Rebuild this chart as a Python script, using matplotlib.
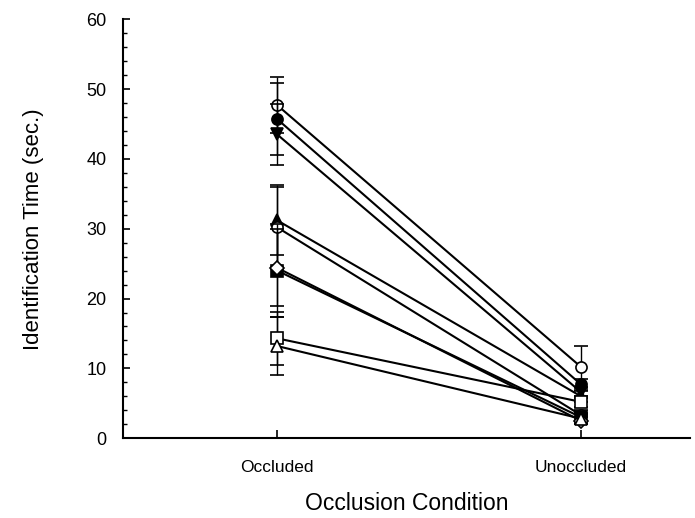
import numpy as np
import matplotlib.pyplot as plt

plt.rcParams['font.family'] = ['Liberation Sans', 'DejaVu Sans']

# Conditions and per-series means / error bars (sec.)
conditions = ['Occluded', 'Unoccluded']
occluded = [47.7, 45.7, 43.5, 31.2, 30.2, 24.0, 24.4, 14.3, 13.2]
unoccluded = [10.2, 7.7, 6.6, 6.0, 3.3, 3.0, 2.5, 5.2, 2.8]
occ_err = [4.0, 5.2, 4.4, 5.0, 5.8, 6.7, 5.5, 3.8, 4.2]
unocc_err = [3.0, 0.8, 0.8, 0.8, 0.8, 0.5, 0.5, 0.8, 0.8]
markers = ['o', 'o', 'v', '^', 'o', 's', 'D', 's', '^']
filled = [False, True, True, True, False, True, False, False, False]

fig = plt.figure(figsize=(6.95, 5.18), dpi=100)
ax = fig.add_axes([0.177, 0.154, 0.816, 0.809])

x = np.arange(len(conditions))
for i in range(len(occluded)):
    y = [occluded[i], unoccluded[i]]
    e = [occ_err[i], unocc_err[i]]
    fc = 'black' if filled[i] else 'white'
    ms = 7 if markers[i] == 'D' else 8
    ax.errorbar(x, y, yerr=e, color='black', lw=1.5, elinewidth=1.0,
                capsize=5, capthick=1.2, marker=markers[i], ms=ms,
                mfc=fc, mec='black', mew=1.2, zorder=2 + i * 0.1)

ax.set_xlim(-0.507, 1.359)
ax.set_ylim(0, 60)
ax.set_xticks(x)
ax.set_xticklabels(conditions, fontsize=12.5)
ax.set_yticks(np.arange(0, 61, 10))
ax.set_yticks(np.arange(0, 61, 2), minor=True)
ax.tick_params(axis='y', direction='in', labelsize=13, length=5, width=1.2, pad=12)
ax.tick_params(axis='y', which='minor', direction='in', length=3, width=1)
ax.tick_params(axis='x', direction='in', length=6, width=1.2, pad=16)
ax.spines['top'].set_visible(False)
ax.spines['right'].set_visible(False)
ax.spines['left'].set_linewidth(1.5)
ax.spines['bottom'].set_linewidth(1.5)

ax.set_ylabel('Identification Time (sec.)', fontsize=16, labelpad=30)
ax.set_xlabel('Occlusion Condition', fontsize=16.5, labelpad=12)

plt.savefig('out.png', dpi=100)
